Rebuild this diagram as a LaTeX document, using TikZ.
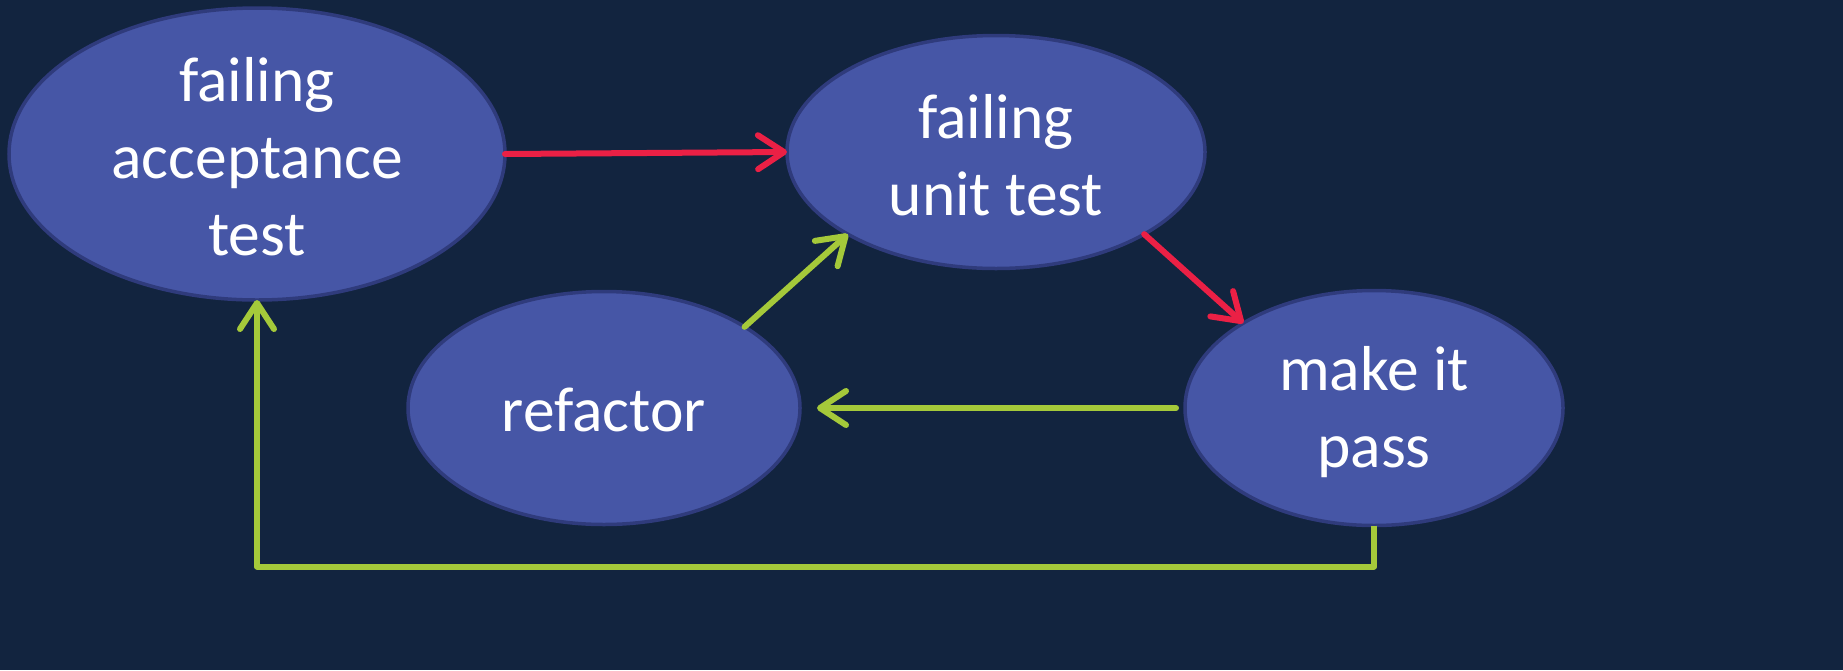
\documentclass[tikz,border=0pt]{standalone}
\usepackage{fontspec}
\setmainfont{Carlito}
\usetikzlibrary{shapes.geometric,arrows.meta}
\definecolor{bg}{HTML}{12243F}
\definecolor{bubblefill}{HTML}{4656A6}
\definecolor{bubbleedge}{HTML}{2F3B7C}
\definecolor{redarrow}{HTML}{EB2045}
\definecolor{greenarrow}{HTML}{A5C93A}
\tikzset{
  bubble/.style={ellipse, fill=bubblefill, draw=bubbleedge, line width=3.5pt, inner sep=0pt, outer sep=0pt},
  lbl/.style={text=white, align=center, font=\fontsize{63.5}{77}\selectfont, inner sep=0pt},
  conn/.style={line width=6pt, line cap=round, line join=round,
    -{Straight Barb[length=26pt, width=34pt, line cap=round, line join=round]}},
  redc/.style={conn, draw=redarrow},
  greenc/.style={conn, draw=greenarrow},
}
\begin{document}
\begin{tikzpicture}[x=1pt,y=-1pt]
\fill[bg] (0,0) rectangle (1843,670);
\useasboundingbox (0,0) rectangle (1843,670);
\node[bubble, minimum width=496pt, minimum height=292pt] (A) at (257,154) {};
\node[lbl] (At) at (257,157) {failing\\acceptance\\test};
\node[bubble, minimum width=418pt, minimum height=233pt] (B) at (996,152) {};
\node[lbl] (Bt) at (996,155) {failing\\unit test};
\node[bubble, minimum width=392pt, minimum height=233pt] (C) at (604,408) {};
\node[lbl] (Ct) at (604,410) {refactor};
\node[bubble, minimum width=378pt, minimum height=235pt] (D) at (1374,408) {};
\node[lbl] (Dt) at (1374,412) {make it\\pass};
\draw[redc] (A.east) -- (B.west);
\draw[redc] (B.-29.5) -- (D.147.6);
\draw[greenc, shorten <=9pt, shorten >=17pt] (D.west) -- (C.east);
\draw[greenc] (C.30.7) -- (B.209.6);
\draw[greenc, line cap=butt] (D.south) -- ++(0,41) -| (A.south);
\end{tikzpicture}
\end{document}
